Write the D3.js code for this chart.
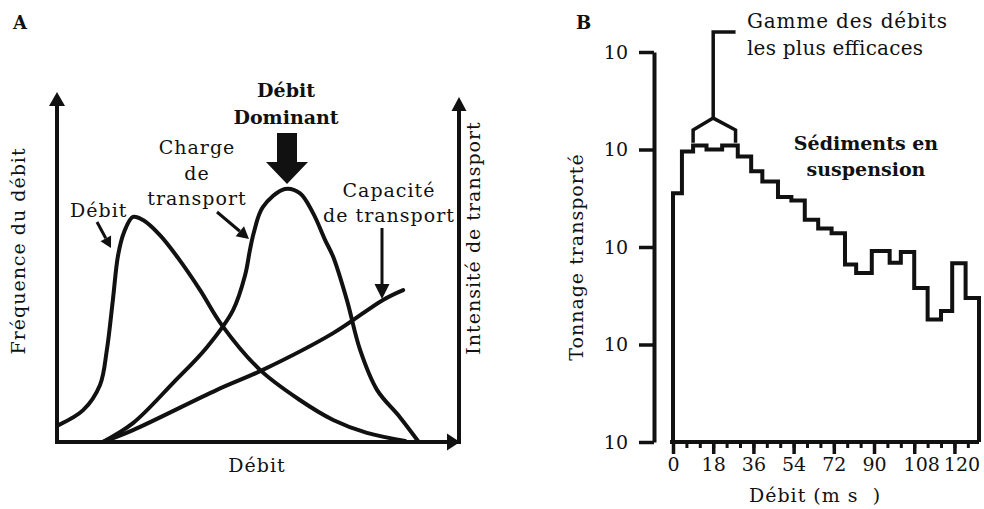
<!DOCTYPE html>
<html>
<head>
<meta charset="utf-8">
<script src="https://cdn.jsdelivr.net/npm/d3@7"></script>
<style>
  body { margin: 0; background: #fff; }
  svg { display: block; }
  text { font-family: 'DejaVu Serif', serif; fill: #111; }
  .lbl { font-size: 19px; letter-spacing: 1px; }
  .bold { font-size: 19px; font-weight: bold; }
</style>
</head>
<body>
<div id="chart"></div>
<script>
// ---- panel A: schematic curves (units 0..100 on both axes)
const debitCurve = [
    [0.5, 4.9], [6.5, 9.1], [10.7, 16.3], [12.4, 26.3], [13.9, 40.6], [15.2, 53.4],
    [16.7, 60.0], [18.9, 64.3], [21.4, 63.4], [25.6, 59.1], [30.1, 52.6], [35.6, 43.4],
    [41.0, 33.4], [50.5, 20.6], [60.4, 12.0], [68.7, 6.3], [77.1, 2.6], [86.6, 0.3]
];
const chargeCurve = [
    [11.4, 0], [18.9, 5.4], [28.9, 16.9], [37.3, 27.1], [43.8, 37.7], [46.8, 47.7],
    [48.0, 54.9], [49.0, 60.0], [51.2, 67.1], [56.7, 72.3], [60.4, 71.1], [63.7, 65.4],
    [66.7, 57.7], [68.7, 52.9], [72.1, 40.6], [75.4, 26.3], [79.6, 14.9], [85.3, 7.1], [89.8, 0.3]
];
const capaciteCurve = [
    [11.4, 0], [18.9, 3.4], [39.8, 14.9], [51.2, 20.6], [68.7, 31.1], [81.1, 40.6], [86.1, 43.4]
];

// ---- panel B: histogram of transported tonnage per discharge class
const binEdges = [0, 4, 9, 15, 22, 29, 35, 40, 47, 53, 59, 65, 71, 77, 82, 89, 97, 102, 108, 114, 120, 125, 131, 137];
const tonnage = [355, 955, 1100, 1000, 1100, 850, 600, 470, 325, 300, 190, 155, 138, 66, 54, 91, 69, 89, 38, 18, 22, 68, 30];
const yTicks = [1, 10, 100, 1000, 10000];
const xMajorTicks = [0, 18, 36, 54, 72, 90, 108, 126];
const xTickLabels = ['0', '18', '36', '54', '72', '90', '108', '120'];
const xMinorTicks = d3.range(0, 138, 6);
const bracket = { left: 9, mid: 18, right: 28, legLow: 1170, legHigh: 1585, apex: 2100, top: 16000 };

const width = 984;
const height = 509;
const stroke = '#111';

const svg = d3.select('#chart')
    .append('svg')
    .attr('width', width)
    .attr('height', height);

// arrow helper: line with filled head at (x2,y2)
function arrow(g, x1, y1, x2, y2, headLen, headHalf, lineW) {
    const a = Math.atan2(y2 - y1, x2 - x1);
    const bx = x2 - headLen * Math.cos(a);
    const by = y2 - headLen * Math.sin(a);
    g.append('line')
        .attr('x1', x1).attr('y1', y1).attr('x2', bx).attr('y2', by)
        .style('stroke', stroke).style('stroke-width', lineW);
    const px = -Math.sin(a) * headHalf;
    const py = Math.cos(a) * headHalf;
    g.append('path')
        .attr('d', `M${x2},${y2}L${bx + px},${by + py}L${bx - px},${by - py}Z`)
        .style('fill', stroke);
}

// ================= Panel A =================
const xA = d3.scaleLinear().domain([0, 100]).range([57, 459]);
const yA = d3.scaleLinear().domain([0, 100]).range([442, 92]);
const gA = svg.append('g');

svg.append('text')
    .attr('x', 13).attr('y', 29)
    .style('font-size', '18px').style('font-weight', 'bold')
    .text('A');

// axes with arrowheads
arrow(gA, xA(0), yA(0) + 2, xA(0), yA(100), 14, 8, 4);
arrow(gA, xA(100), yA(0) + 2, xA(100), yA(98.6), 14, 7.5, 4);
arrow(gA, xA(0) - 2, yA(0), xA(100) + 1, yA(0), 13, 8.5, 4);

const lineA = d3.line()
    .x(d => xA(d[0]))
    .y(d => yA(d[1]))
    .curve(d3.curveCatmullRom.alpha(0.5));

[debitCurve, chargeCurve, capaciteCurve].forEach(c => {
    gA.append('path')
        .attr('d', lineA(c))
        .style('fill', 'none')
        .style('stroke', stroke)
        .style('stroke-width', 4)
        .style('stroke-linecap', 'round');
});

// annotations
gA.append('text').attr('class', 'lbl').attr('x', 70).attr('y', 217).text('Débit');
arrow(gA, 97, 222, 111, 248, 11, 6, 3);

gA.selectAll('.charge-label')
    .data(['Charge', 'de', 'transport'])
    .enter()
    .append('text')
    .attr('class', 'lbl')
    .attr('x', 197)
    .attr('y', (d, i) => 154 + i * 25.5)
    .attr('text-anchor', 'middle')
    .text(d => d);
arrow(gA, 217, 212, 249, 239, 12, 6.5, 3);

gA.selectAll('.dom-label')
    .data(['Débit', 'Dominant'])
    .enter()
    .append('text')
    .attr('class', 'bold')
    .attr('x', 286)
    .attr('y', (d, i) => 97 + i * 27)
    .attr('text-anchor', 'middle')
    .text(d => d);
gA.append('path')
    .attr('d', 'M277,133H297V162H308L287,184L266,162H277Z')
    .style('fill', stroke);

gA.selectAll('.cap-label')
    .data(['Capacité', 'de transport'])
    .enter()
    .append('text')
    .attr('class', 'lbl')
    .attr('x', 389)
    .attr('y', (d, i) => 197 + i * 25)
    .attr('text-anchor', 'middle')
    .text(d => d);
arrow(gA, 382, 228, 382, 299, 15, 7.5, 3);

gA.append('text')
    .attr('class', 'lbl')
    .attr('x', 257).attr('y', 472)
    .attr('text-anchor', 'middle')
    .text('Débit');

gA.append('text')
    .attr('class', 'lbl')
    .attr('transform', 'translate(25,251) rotate(-90)')
    .attr('text-anchor', 'middle')
    .text('Fréquence du débit');

gA.append('text')
    .attr('class', 'lbl')
    .attr('transform', 'translate(480,238) rotate(-90)')
    .attr('text-anchor', 'middle')
    .text('Intensité de transport');

// ================= Panel B =================
const xB = d3.scaleLinear().domain([0, 137]).range([673, 979]);
const yB = d3.scaleLog().domain([1, 10000]).range([442, 52]);
const gB = svg.append('g');

svg.append('text')
    .attr('x', 576).attr('y', 29)
    .style('font-size', '18px').style('font-weight', 'bold')
    .text('B');

// y axis (separate spine left of the histogram)
const yAxis = gB.append('g')
    .attr('transform', 'translate(654,0)')
    .call(d3.axisLeft(yB).tickValues(yTicks).tickFormat(() => '10').tickSize(15).tickSizeOuter(0).tickPadding(11));
yAxis.select('.domain').style('stroke', stroke).style('stroke-width', 4);
yAxis.selectAll('.tick line').style('stroke', stroke).style('stroke-width', 3.5);
yAxis.selectAll('.tick text')
    .style('font-family', "'DejaVu Serif', serif")
    .style('font-size', '19px')
    .style('fill', '#111');

// histogram as step outline
const stepPts = [[binEdges[0], 1]];
tonnage.forEach((v, i) => {
    stepPts.push([binEdges[i], v]);
    stepPts.push([binEdges[i + 1], v]);
});
stepPts.push([binEdges[binEdges.length - 1], 1]);

gB.append('path')
    .attr('d', d3.line().x(d => xB(d[0])).y(d => yB(d[1]))(stepPts))
    .style('fill', 'none')
    .style('stroke', stroke)
    .style('stroke-width', 4)
    .style('stroke-linejoin', 'miter');

// x axis: minor and major ticks
const minorAxis = gB.append('g')
    .attr('transform', `translate(0,${yB(1)})`)
    .call(d3.axisBottom(xB).tickValues(xMinorTicks).tickFormat('').tickSize(6).tickSizeOuter(0));
minorAxis.select('.domain').remove();
minorAxis.selectAll('.tick line').style('stroke', stroke).style('stroke-width', 3);

const majorAxis = gB.append('g')
    .attr('transform', `translate(0,${yB(1)})`)
    .call(d3.axisBottom(xB).tickValues(xMajorTicks).tickFormat((d, i) => xTickLabels[i]).tickSize(12).tickSizeOuter(0).tickPadding(4));
majorAxis.select('.domain').remove();
majorAxis.selectAll('.tick line').style('stroke', stroke).style('stroke-width', 3.5);
majorAxis.selectAll('.tick text')
    .attr('dx', (d, i) => xTickLabels[i].length > 2 ? 7 : 0)
    .style('font-family', "'DejaVu Serif', serif")
    .style('font-size', '19px')
    .style('fill', '#111');

gB.append('line')
    .attr('x1', xB(0) - 3).attr('x2', xB(137))
    .attr('y1', yB(1)).attr('y2', yB(1))
    .style('stroke', stroke).style('stroke-width', 4);

// bracket marking the most effective discharge range
const bracketPts = [
    [bracket.left, bracket.legLow], [bracket.left, bracket.legHigh], [bracket.mid, bracket.apex],
    [bracket.right, bracket.legHigh], [bracket.right, bracket.legLow]
];
gB.append('path')
    .attr('d', d3.line().x(d => xB(d[0])).y(d => yB(d[1]))(bracketPts))
    .style('fill', 'none').style('stroke', stroke).style('stroke-width', 3.5);
gB.append('path')
    .attr('d', d3.line().x(d => xB(d[0])).y(d => yB(d[1]))([
        [bracket.mid, bracket.apex], [bracket.mid, bracket.top], [bracket.right, bracket.top]
    ]))
    .style('fill', 'none').style('stroke', stroke).style('stroke-width', 3.5);

gB.selectAll('.gamme-label')
    .data([['Gamme des débits', 200], ['les plus efficaces', 176]])
    .enter()
    .append('text')
    .attr('x', 747)
    .attr('y', (d, i) => 28 + i * 27)
    .attr('textLength', d => d[1])
    .attr('lengthAdjust', 'spacing')
    .style('font-size', '20px')
    .text(d => d[0]);

gB.selectAll('.sed-label')
    .data(['Sédiments en', 'suspension'])
    .enter()
    .append('text')
    .attr('class', 'bold')
    .attr('x', 866)
    .attr('y', (d, i) => 150 + i * 26)
    .attr('text-anchor', 'middle')
    .text(d => d);

gB.append('text')
    .attr('class', 'lbl')
    .attr('transform', 'translate(583,257) rotate(-90)')
    .attr('text-anchor', 'middle')
    .text('Tonnage transporté');

gB.append('text')
    .attr('class', 'lbl')
    .attr('x', 815).attr('y', 502)
    .attr('text-anchor', 'middle')
    .attr('xml:space', 'preserve')
    .style('white-space', 'pre')
    .text('Débit (m s  )');
</script>
</body>
</html>
